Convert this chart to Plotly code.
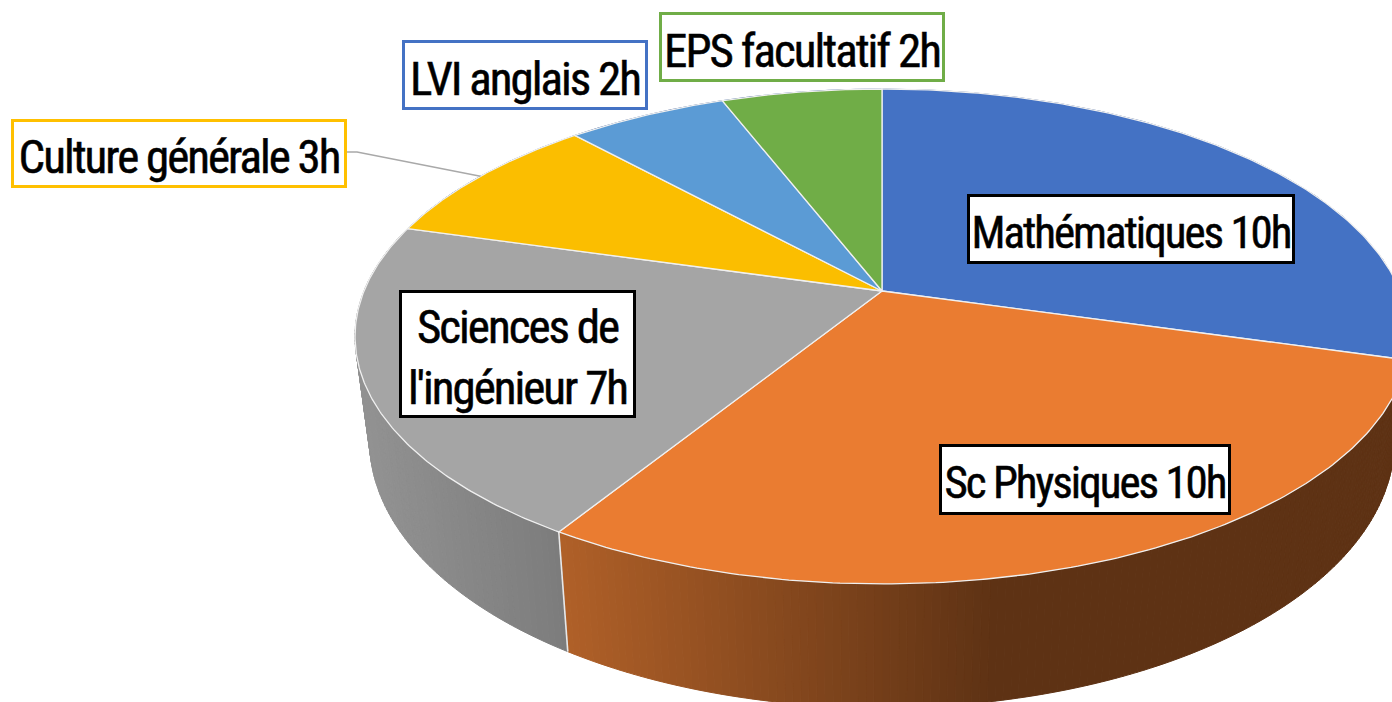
import numpy as np
import plotly.graph_objects as go

# ---- data ----
categories = ["Mathématiques", "Sc Physiques", "Sciences de l'ingénieur", "Culture générale", "LVI anglais", "EPS facultatif"]
hours = [10, 10, 7, 3, 2, 2]
slice_colors = ["#4472C4", "#EA7C31", "#A5A5A5", "#FBBE00", "#5B9BD5", "#70AD47"]
label_texts = ["Mathématiques 10h", "Sc Physiques 10h", "Sciences de<br>l'ingénieur 7h",
               "Culture générale 3h", "LVI anglais 2h", "EPS facultatif 2h"]
label_borders = ["#000000", "#000000", "#000000", "#FFC000", "#4472C4", "#70AD47"]
label_boxes = [(968, 1293, 195, 262), (940, 1229, 445, 513), (400, 634, 291, 416),
               (12, 345, 120, 186), (403, 646, 41, 108), (660, 943, 13, 80)]
label_sizes = [45, 45, 47, 47, 47, 47]

# ---- perspective of the pie disc (pixel frame of the picture) ----
CX, CY, A, B, K = 882.0, 291.0, 518.0, 239.1, 0.1838
DEPTH, SCALE = 101.0, 0.9722


def rim(theta):
    u, v = np.sin(theta), np.cos(theta)
    d = 1 + K * v
    return CX + A * u / d, CY - B * v / d


def lower(theta):
    x, y = rim(theta)
    d = 1 + K * np.cos(theta)
    return CX + (x - CX) * SCALE, y + DEPTH / d


def side_color(i, x):
    if i == 1:
        stops = [558, 995]
        r = np.interp(x, stops, [176, 94])
        g = np.interp(x, stops, [96, 50])
        b = np.interp(x, stops, [40, 20])
        return f"rgb({r:.0f},{g:.0f},{b:.0f})"
    if i == 2:
        v = np.interp(x, [360, 560], [146, 124])
        return f"rgb({v:.0f},{v:.0f},{v:.0f})"
    return "#2F5597"


edges = np.concatenate([[0], np.cumsum(hours)]) / sum(hours) * 2 * np.pi
fig = go.Figure()

# sides (only slices wrapping the front are visible; the top face covers the rest)
for i in range(len(hours)):
    n = max(4, int(hours[i] * 14)) if i in (1, 2) else 6
    th = np.linspace(edges[i], edges[i + 1], n + 1)
    for a0, a1 in zip(th[:-1], th[1:]):
        sub = np.linspace(a0, a1, 4)
        xt, yt = rim(sub)
        xb, yb = lower(sub)
        col = side_color(i, xt.mean())
        fig.add_trace(go.Scatter(
            x=np.concatenate([xt, xb[::-1], xt[:1]]),
            y=np.concatenate([yt, yb[::-1], yt[:1]]),
            mode="lines", fill="toself", fillcolor=col,
            line=dict(color=col, width=1), hoverinfo="skip", showlegend=False))

# seam between the sides of the two front slices
xt, yt = rim(edges[2])
xb, yb = lower(edges[2])
fig.add_trace(go.Scatter(x=[xt, xb], y=[yt, yb], mode="lines",
                         line=dict(color="#E8E8E8", width=1.6),
                         hoverinfo="skip", showlegend=False))

# top faces
for i in range(len(hours)):
    th = np.linspace(edges[i], edges[i + 1], 160)
    xt, yt = rim(th)
    fig.add_trace(go.Scatter(
        x=np.concatenate([[CX], xt, [CX]]),
        y=np.concatenate([[CY], yt, [CY]]),
        mode="lines", fill="toself", fillcolor=slice_colors[i],
        line=dict(color="#F0F0F0", width=1.3), name=categories[i],
        hoverinfo="skip", showlegend=False))

# leader for the yellow slice
mid = (edges[3] + edges[4]) / 2
lx, ly = rim(mid)
box = label_boxes[3]
ymid = (box[2] + box[3]) / 2
fig.add_trace(go.Scatter(x=[box[1], box[1] + 12, lx], y=[ymid - 1, ymid - 1, ly], mode="lines",
                         line=dict(color="#A9A9A9", width=1.5), hoverinfo="skip", showlegend=False))

annotations = []
for text, bc, (x0, x1, y0, y1), fs in zip(label_texts, label_borders, label_boxes, label_sizes):
    annotations.append(dict(
        x=(x0 + x1) / 2, y=(y0 + y1) / 2, xref="x", yref="y", text=text, showarrow=False,
        xanchor="center", yanchor="middle", align="center", valign="middle",
        width=x1 - x0 - 3, height=y1 - y0 - 3, borderpad=0, borderwidth=3, bordercolor=bc,
        bgcolor="#FFFFFF",
        font=dict(family="Liberation Sans Narrow, Roboto Condensed, Liberation Sans", size=fs, color="#000000")))

fig.update_layout(
    width=1392, height=702, margin=dict(l=0, r=0, t=0, b=0),
    paper_bgcolor="#FFFFFF", plot_bgcolor="#FFFFFF", showlegend=False,
    xaxis=dict(range=[0, 1392], visible=False, fixedrange=True),
    yaxis=dict(range=[702, 0], visible=False, fixedrange=True),
    annotations=annotations,
)
post = """document.body.style.margin='0';document.documentElement.style.overflow='hidden';
var s=document.createElement('style');
s.textContent='.annotation-text{letter-spacing:-2px;stroke:#000;stroke-width:0.5px;transform:translateY(3px);}';
document.head.appendChild(s);"""
fig.write_html("out.html", config={"displayModeBar": False}, post_script=post)
